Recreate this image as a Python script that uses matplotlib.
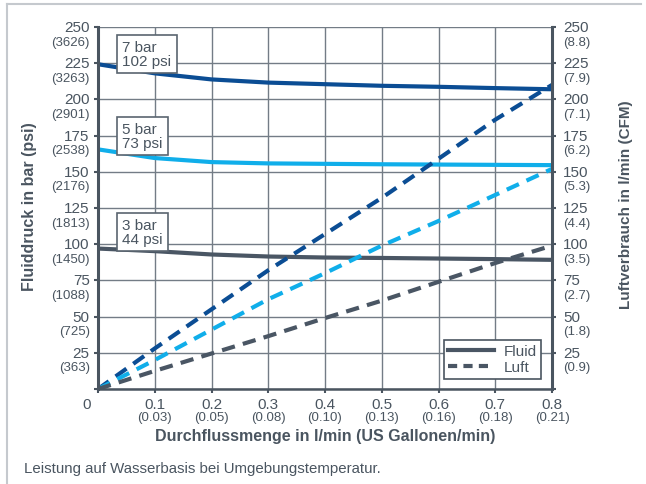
import matplotlib.pyplot as plt
from matplotlib.lines import Line2D

plt.rcParams["font.family"] = ["Liberation Sans", "DejaVu Sans"]

# DATA
flow = [0.0, 0.1, 0.2, 0.3, 0.4, 0.5, 0.6, 0.7, 0.8]

fluid_7bar = [224.3, 218.0, 213.8, 211.6, 210.5, 209.4, 208.7, 207.8, 207.0]
fluid_5bar = [165.5, 159.5, 156.7, 155.8, 155.5, 155.2, 155.0, 154.8, 154.6]
fluid_3bar = [97.0, 95.2, 92.9, 91.5, 90.8, 90.5, 90.1, 89.7, 89.2]

luft_7bar = [0.0, 28.0, 55.0, 82.0, 107.0, 132.0, 159.0, 186.0, 210.0]
luft_5bar = [0.0, 20.0, 41.0, 62.0, 80.0, 99.0, 116.0, 134.0, 152.0]
luft_3bar = [0.0, 12.5, 24.5, 36.5, 49.0, 61.0, 74.0, 87.0, 99.0]

pressure_labels = ["7 bar\n102 psi", "5 bar\n73 psi", "3 bar\n44 psi"]
label_y = [231.4, 174.7, 108.4]

y_ticks = [25, 50, 75, 100, 125, 150, 175, 200, 225, 250]
psi_labels = ["363", "725", "1088", "1450", "1813", "2176", "2538", "2901", "3263", "3626"]
cfm_labels = ["0.9", "1.8", "2.7", "3.5", "4.4", "5.3", "6.2", "7.1", "7.9", "8.8"]

x_ticks = [0.1, 0.2, 0.3, 0.4, 0.5, 0.6, 0.7, 0.8]
gal_labels = ["0.03", "0.05", "0.08", "0.10", "0.13", "0.16", "0.18", "0.21"]

# colours
c7 = "#0b4d94"
c5 = "#10aeea"
c3 = "#4a5664"
txt = "#4a5560"
grid_c = "#737c86"

W, H = 646, 485
fig = plt.figure(figsize=(W / 100, H / 100), dpi=100)
ax = fig.add_axes([98 / W, 1 - 390 / H, (552 - 98) / W, (390 - 28) / H])

ax.set_xlim(0, 0.8)
ax.set_ylim(0, 250)
ax.set_xticks([0] + x_ticks)
ax.set_yticks([0] + y_ticks)
ax.set_xticklabels([])
ax.set_yticklabels([])
ax.grid(True, color=grid_c, lw=1.0)
ax.set_axisbelow(True)
ax.tick_params(length=3, width=1.5, color=txt, right=True, direction="out")

for side in ["left", "right"]:
    ax.spines[side].set_linewidth(2.2)
    ax.spines[side].set_color(txt)
ax.spines["bottom"].set_linewidth(1.8)
ax.spines["bottom"].set_color(txt)
ax.spines["top"].set_visible(False)

# fluid pressure (solid)
for vals, col in [(fluid_7bar, c7), (fluid_5bar, c5), (fluid_3bar, c3)]:
    ax.plot(flow, vals, color=col, lw=3.0, solid_capstyle="butt")

# air consumption (dashed)
for vals, col in [(luft_7bar, c7), (luft_5bar, c5), (luft_3bar, c3)]:
    ax.plot(flow, vals, color=col, lw=3.0, linestyle=(0, (3.2, 2.0)),
            dash_capstyle="butt")

# pressure boxes
for lab, yv in zip(pressure_labels, label_y):
    ax.text(0.043, yv, lab, fontsize=11, color=txt, va="center", ha="left",
            linespacing=0.95,
            bbox=dict(boxstyle="square,pad=0.35", fc="white", ec="#5a6570", lw=1.2))

# tick labels
for v, p, c in zip(y_ticks, psi_labels, cfm_labels):
    ax.annotate(str(v), (0, v), xycoords=("axes fraction", "data"),
                xytext=(-6, 0), textcoords="offset points",
                ha="right", va="center", fontsize=11, color=txt)
    ax.annotate("(" + p + ")", (0, v), xycoords=("axes fraction", "data"),
                xytext=(-6, -10.5), textcoords="offset points",
                ha="right", va="center", fontsize=9.5, color=txt)
    ax.annotate(str(v), (1, v), xycoords=("axes fraction", "data"),
                xytext=(8, 0), textcoords="offset points",
                ha="left", va="center", fontsize=11, color=txt)
    ax.annotate("(" + c + ")", (1, v), xycoords=("axes fraction", "data"),
                xytext=(8, -10.5), textcoords="offset points",
                ha="left", va="center", fontsize=9.5, color=txt)

for v, g in zip(x_ticks, gal_labels):
    ax.annotate(str(v), (v, 0), xycoords=("data", "axes fraction"),
                xytext=(0, -11), textcoords="offset points",
                ha="center", va="center", fontsize=11, color=txt)
    ax.annotate("(" + g + ")", (v, 0), xycoords=("data", "axes fraction"),
                xytext=(0, -20), textcoords="offset points",
                ha="center", va="center", fontsize=9.5, color=txt)

ax.annotate("0", (0, 0), xycoords="axes fraction", xytext=(-8, -11),
            textcoords="offset points", ha="center", va="center",
            fontsize=11, color=txt)

# axis titles
fig.text(325 / W, 1 - 437 / H, "Durchflussmenge in l/min (US Gallonen/min)",
         ha="center", va="center", fontsize=11.5, fontweight="bold", color=txt)
fig.text(30 / W, 1 - 207 / H, "Fluiddruck in bar (psi)", rotation=90,
         ha="center", va="center", fontsize=11.5, fontweight="bold", color=txt)
fig.text(626 / W, 1 - 205 / H, "Luftverbrauch in l/min (CFM)", rotation=90,
         ha="center", va="center", fontsize=11, fontweight="bold", color=txt)
fig.text(24 / W, 1 - 469 / H, "Leistung auf Wasserbasis bei Umgebungstemperatur.",
         ha="left", va="center", fontsize=10.8, color=txt)

# legend
handles = [Line2D([], [], color=c3, lw=3.0),
           Line2D([], [], color=c3, lw=3.0, linestyle=(0, (2.2, 1.5)))]
leg = ax.legend(handles, ["Fluid", "Luft"], loc="lower right",
                bbox_to_anchor=((541 - 98) / (552 - 98), (390 - 380) / (390 - 28)),
                fontsize=11, handlelength=3.0, fancybox=False, framealpha=1,
                borderpad=0.3, labelspacing=0.15, handletextpad=0.6,
                borderaxespad=0)
leg.get_frame().set_edgecolor(txt)
leg.get_frame().set_linewidth(1.2)
for t in leg.get_texts():
    t.set_color(txt)

# outer frame (top and left)
fig.add_artist(Line2D([7 / W, 7 / W], [0, 1 - 5 / H], color="#c5c9ce", lw=1.5))
fig.add_artist(Line2D([7 / W, 641 / W], [1 - 5 / H, 1 - 5 / H], color="#c5c9ce", lw=1.5))

fig.savefig("out.png", dpi=100)
